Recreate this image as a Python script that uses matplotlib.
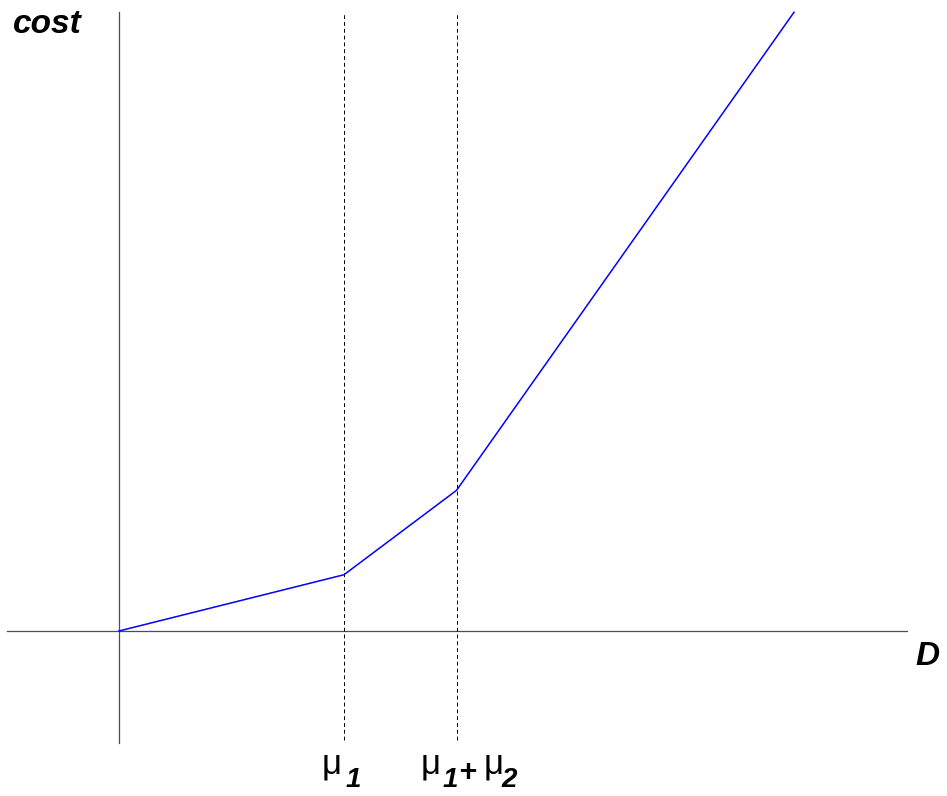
import numpy as np
import matplotlib.pyplot as plt

# piecewise linear cost
D_pts = [0, 2, 3, 6]
cost_pts = [0, 0.5, 1.25, 5.5]
mu1 = 2
mu12 = 3

x_axis = [-1, 7]
y_axis = [-1, 5.5]
dash_y = [-0.97, 5.5]

fig = plt.figure(figsize=(9.47, 7.96), dpi=100)
ax = fig.add_axes([0, 0, 1, 1])
ax.set_xlim(-1.058, 7.36)
ax.set_ylim(-1.467, 5.609)
ax.axis('off')

ax.plot(x_axis, [0, 0], color='0.3', lw=0.9)
ax.plot([0, 0], y_axis, color='0.3', lw=0.9)
for xv in [mu1, mu12]:
    ax.plot([xv, xv], dash_y, color='black', lw=0.7, ls=(0, (4, 3)))

ax.plot(D_pts, cost_pts, color='#0000ff', lw=1.1)

bi = dict(family='Liberation Sans', weight='bold', style='italic')
ax.text(13, 796 - 33, 'cost', transform=None, fontsize=24, va='baseline', **bi)
ax.text(915, 796 - 665, 'D', transform=None, fontsize=24, va='baseline', **bi)

def lab(x0, dx, s, size, bold, dy):
    kw = bi if bold else dict(family='Liberation Sans')
    ax.annotate(s, xy=(x0, 0), xycoords='data', xytext=(dx, dy),
                textcoords='offset pixels', fontsize=size, va='baseline', ha='left', **kw)

lab(mu1, -22, 'μ', 25, False, -143)
lab(mu1, 2, '1', 20, True, -156)
lab(mu12, -36, 'μ', 25, False, -143)
lab(mu12, -14, '1', 20, True, -156)
lab(mu12, 2, '+', 22, True, -150)
lab(mu12, 27, 'μ', 25, False, -143)
lab(mu12, 45, '2', 20, True, -156)

plt.savefig('out.png', dpi=100)
